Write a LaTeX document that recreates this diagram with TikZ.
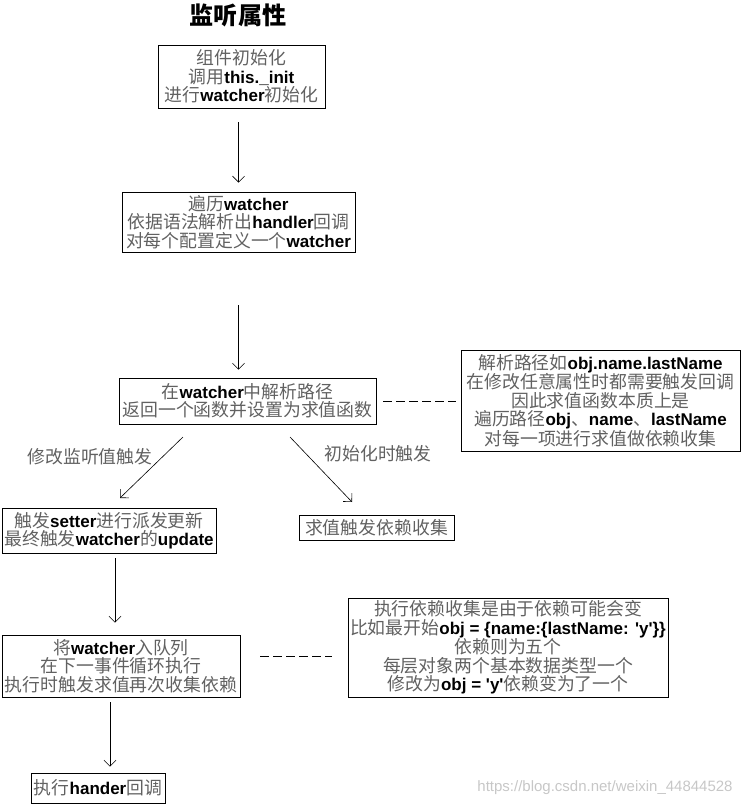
\documentclass[tikz,border=0pt]{standalone}
\usepackage{fontspec}
\setmainfont{Liberation Sans}
\newfontfamily\cjk[Scale=1.05]{Noto Sans CJK SC}
\usetikzlibrary{arrows.meta}
\newcommand{\zh}[1]{{\cjk\color{black!62}#1}}
\newcommand{\en}[1]{{\bfseries #1}}
\tikzset{
  box/.style={draw, line width=0.8pt, inner sep=0pt, align=center,
    font=\fontsize{17}{18.5}\selectfont},
  arr/.style={line width=0.6pt, -{Straight Barb[length=6pt,width=12pt,line width=0.6pt]}},
  dsh/.style={line width=0.8pt, dash pattern=on 9pt off 4pt},
  lbl/.style={font=\fontsize{17}{18.5}\selectfont, inner sep=0pt}
}
\begin{document}
\begin{tikzpicture}[x=1pt,y=-1pt]
\useasboundingbox (0,0) rectangle (750,805);
\node[font=\cjk\bfseries\fontsize{23}{26}\selectfont, inner sep=0pt] (title) at (238,15) {监听属性};

\node[box, minimum width=167pt, minimum height=63pt] (b1) at (241.5,76.5)
 {\zh{组件初始化}\\\zh{调用}\en{this.\_init}\\\zh{进行}\en{watcher}\zh{初始化}};
\node[box, minimum width=233pt, minimum height=60pt] (b2) at (238.5,222)
 {\zh{遍历}\en{watcher}\\\zh{依据语法解析出}\en{handler}\zh{回调}\\\zh{对每个配置定义一个}\en{watcher}};
\node[box, minimum width=257pt, minimum height=46pt] (b3) at (247.5,401)
 {\zh{在}\en{watcher}\zh{中解析路径}\\\zh{返回一个函数并设置为求值函数}};
\node[box, minimum width=279pt, minimum height=101pt] (b4) at (600.5,400.5)
 {\zh{解析路径如}\en{obj.name.lastName}\\\zh{在修改任意属性时都需要触发回调}\\\zh{因此求值函数本质上是}\\\zh{遍历路径}\en{obj}\zh{、}\en{name}\zh{、}\en{lastName}\\\zh{对每一项进行求值做依赖收集}};
\node[box, minimum width=214pt, minimum height=45pt] (b5) at (109,530.5)
 {\zh{触发}\en{setter}\zh{进行派发更新}\\\zh{最终触发}\en{watcher}\zh{的}\en{update}};
\node[box, minimum width=155pt, minimum height=25pt] (b6) at (376.5,527.5)
 {\zh{求值触发依赖收集}};
\node[box, minimum width=238pt, minimum height=62pt] (b7) at (121,666)
 {\zh{将}\en{watcher}\zh{入队列}\\\zh{在下一事件循环执行}\\\zh{执行时触发求值再次收集依赖}};
\node[box, minimum width=320pt, minimum height=99pt] (b8) at (508,647.5)
 {\zh{执行依赖收集是由于依赖可能会变}\\\zh{比如最开始}\en{obj = \{name:\{lastName: \textquotesingle y\textquotesingle\}\}}\\\zh{依赖则为五个}\\\zh{每层对象两个基本数据类型一个}\\\zh{修改为}\en{obj = \textquotesingle y\textquotesingle}\zh{依赖变为了一个}};
\node[box, minimum width=134pt, minimum height=30pt] (b9) at (98,788)
 {\zh{执行}\en{hander}\zh{回调}};

\node[lbl] (l1) at (90,457) {\zh{修改监听值触发}};
\node[lbl] (l2) at (378,454) {\zh{初始化时触发}};
\node[font=\fontsize{15}{16}\selectfont, text=black!22, inner sep=0pt] (wm) at (605,788) {https://blog.csdn.net/weixin\_44844528};

\coordinate (p1) at (183,437);
\coordinate (p2) at (120,498);
\coordinate (p3) at (290,437);
\coordinate (p4) at (352,502);
\coordinate (d1) at (260,656);
\coordinate (d2) at (332,656);

\draw[arr, shorten <=14pt, shorten >=9pt] (b1.south -| b2.north) -- (b2.north);
\draw[arr, shorten <=53pt, shorten >=8pt] (b2.south) -- (b2.south |- b3.north);
\draw[arr] (p1) -- (p2);
\draw[arr] (p3) -- (p4);
\draw[arr, shorten <=5pt, shorten >=12pt] (b5.south -| 115,0) -- (b7.north -| 115,0);
\draw[arr, shorten <=5pt, shorten >=6pt] (b7.south -| 110,0) -- (b9.north -| 110,0);
\draw[dsh, shorten <=7pt, shorten >=5pt] (b3.east) -- (b4.west |- b3.east);
\draw[dsh] (d1) -- (d2);
\end{tikzpicture}
\end{document}
